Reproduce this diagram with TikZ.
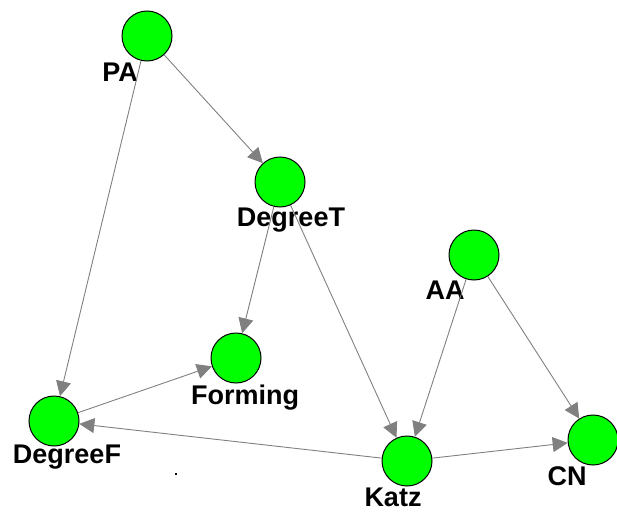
\documentclass[tikz,border=0pt]{standalone}
\usepackage{fontspec}
\setmainfont{Liberation Sans}
\usetikzlibrary{arrows.meta}
\definecolor{vgreen}{RGB}{0,255,0}
\definecolor{egray}{RGB}{128,128,128}
\tikzset{
  vert/.style={circle, draw=black, fill=vgreen, line width=1pt, minimum size=50pt, inner sep=0pt},
  vname/.style={font=\fontsize{27}{32}\selectfont\bfseries, inner sep=0pt},
  edge/.style={draw=egray, line width=0.9pt, -{Triangle[length=15pt,width=15pt,fill=egray]}}
}
\begin{document}
\begin{tikzpicture}[x=1pt,y=-1pt]
\useasboundingbox (0,0) rectangle (617,511);

% Vertices of the graph
\node [vert] (PA) at (147,36) {};
\node [vert] (DegreeT) at (280,182) {};
\node [vert] (AA) at (474,255) {};
\node [vert] (Forming) at (236,358) {};
\node [vert] (DegreeF) at (54,421) {};
\node [vert] (Katz) at (407,461) {};
\node [vert] (CN) at (593,440) {};

% Names of the vertices
\node [vname] (PAlab) at (120,72) {PA};
\node [vname] (DegreeTlab) at (291,220) {DegreeT};
\node [vname] (AAlab) at (445,290) {AA};
\node [vname] (Forminglab) at (245,398) {Forming};
\node [vname] (DegreeFlab) at (67,457) {DegreeF};
\node [vname] (Katzlab) at (393,497) {Katz};
\node [vname] (CNlab) at (567,476) {CN};

% Directed edges between the vertices
\draw [edge] (PA)--(DegreeT);
\draw [edge] (PA)--(DegreeF);
\draw [edge] (DegreeT)--(Forming);
\draw [edge] (DegreeT)--(Katz);
\draw [edge] (AA)--(Katz);
\draw [edge] (AA)--(CN);
\draw [edge] (DegreeF)--(Forming);
\draw [edge] (Katz)--(DegreeF);
\draw [edge] (Katz)--(CN);

% Stray dot below the edges
\fill (175,473) rectangle (177,475);

\end{tikzpicture}
\end{document}
